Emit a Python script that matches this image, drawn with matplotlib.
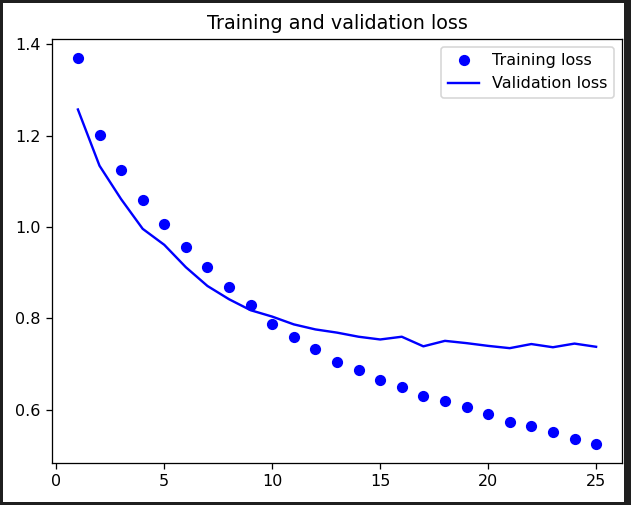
import matplotlib
matplotlib.use("Agg")
import matplotlib.pyplot as plt
from matplotlib.patches import Rectangle

epochs = list(range(1, 26))
training_loss = [1.369, 1.202, 1.124, 1.058, 1.006, 0.956, 0.913, 0.869, 0.829, 0.787,
                 0.760, 0.733, 0.705, 0.687, 0.665, 0.650, 0.631, 0.620, 0.607, 0.591,
                 0.574, 0.565, 0.551, 0.536, 0.526]
validation_loss = [1.257, 1.134, 1.061, 0.996, 0.961, 0.912, 0.871, 0.842, 0.818, 0.804,
                   0.787, 0.776, 0.769, 0.760, 0.754, 0.760, 0.739, 0.751, 0.746, 0.740,
                   0.735, 0.744, 0.737, 0.745, 0.738]

DPI = 115
W, H = 631, 505
fig = plt.figure(figsize=(W / DPI, H / DPI), dpi=DPI)
fig.patch.set_facecolor("white")

ax = fig.add_axes([52 / W, (H - 463) / H, (622 - 52) / W, (463 - 39) / H])
ax.plot(epochs, training_loss, "bo", label="Training loss")
ax.plot(epochs, validation_loss, "b", label="Validation loss")
ax.set_title("Training and validation loss")
ax.legend()

# dark screenshot frame
dark = "#1f1f1f"
for (x, y, w, h) in [(0, 0, 3, H), (0, H - 3, W, 3), (624, 0, W - 624, H), (0, 0, W, 3)]:
    fig.patches.append(Rectangle((x / W, y / H), w / W, h / H, transform=fig.transFigure,
                                 facecolor=dark, edgecolor="none", zorder=10))

fig.savefig("out.png", dpi=DPI)
